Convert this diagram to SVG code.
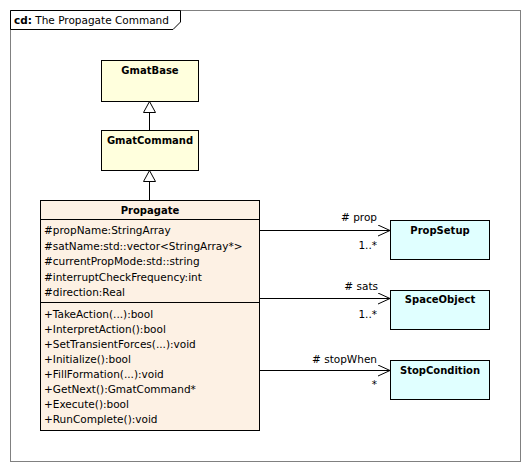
<svg xmlns="http://www.w3.org/2000/svg" width="530" height="471" viewBox="0 0 530 471">
<style>
text{font-family:"DejaVu Sans","Liberation Sans",sans-serif;font-size:10.5px;fill:#000}
.name{font-weight:bold;font-size:10px;text-anchor:middle}
.box{stroke:#000;stroke-width:1}
.yel{fill:#FFFFDD}
.peach{fill:#FDF1E4}
.cyan{fill:#E0FFFF}
.ln{stroke:#000;stroke-width:1;fill:none}
.lbl{text-anchor:end}
</style>
<defs>
<marker id="open" markerWidth="14" markerHeight="14" refX="12" refY="6" orient="auto" markerUnits="userSpaceOnUse">
<path d="M0,0.5 L12,6 L0,11.5" fill="none" stroke="#000" stroke-width="1"/>
</marker>
</defs>
<rect x="0" y="0" width="530" height="471" fill="#fff"/>
<g id="frame">
<rect x="10.5" y="10.5" width="510" height="451" fill="none" stroke="#808080" stroke-width="1"/>
<path d="M10.5,10.5 H180.5 V22 L173,29.5 H10.5 Z" fill="#fff" stroke="#000" stroke-width="1"/>
<text x="14" y="24"><tspan font-weight="bold">cd:</tspan> The Propagate Command</text>
</g>
<g id="GmatBase">
<rect class="box yel" x="101.5" y="60.5" width="97" height="41"/>
<text class="name" x="150" y="74">GmatBase</text>
</g>
<g id="GmatCommand">
<rect class="box yel" x="101.5" y="130.5" width="97" height="40"/>
<text class="name" x="150" y="144">GmatCommand</text>
</g>
<g id="Propagate">
<rect class="box peach" x="40.5" y="200.5" width="219" height="230"/>
<text class="name" x="150" y="213.5">Propagate</text>
<line class="ln" x1="40.5" y1="219.5" x2="259.5" y2="219.5"/>
<text x="44" y="234">#propName:StringArray</text>
<text x="44" y="249.5">#satName:std::vector&lt;StringArray*&gt;</text>
<text x="44" y="265">#currentPropMode:std::string</text>
<text x="44" y="280.5">#interruptCheckFrequency:int</text>
<text x="44" y="296">#direction:Real</text>
<line class="ln" x1="40.5" y1="302.5" x2="259.5" y2="302.5"/>
<text x="44" y="318">+TakeAction(...):bool</text>
<text x="44" y="333">+InterpretAction():bool</text>
<text x="44" y="348">+SetTransientForces(...):void</text>
<text x="44" y="363">+Initialize():bool</text>
<text x="44" y="378">+FillFormation(...):void</text>
<text x="44" y="393">+GetNext():GmatCommand*</text>
<text x="44" y="408">+Execute():bool</text>
<text x="44" y="423">+RunComplete():void</text>
</g>
<g id="PropSetup">
<rect class="box cyan" x="390.5" y="220.5" width="99" height="39"/>
<text class="name" x="440" y="234">PropSetup</text>
</g>
<g id="SpaceObject">
<rect class="box cyan" x="390.5" y="290.5" width="99" height="39"/>
<text class="name" x="440" y="302.5">SpaceObject</text>
</g>
<g id="StopCondition">
<rect class="box cyan" x="390.5" y="360.5" width="99" height="39"/>
<text class="name" x="440" y="374">StopCondition</text>
</g>
<g id="connectors">
<line class="ln" x1="149.5" y1="112" x2="149.5" y2="130"/>
<path d="M149.5,101.5 L155.5,112.5 L143.5,112.5 Z" fill="#fff" stroke="#000" stroke-width="1"/>
<line class="ln" x1="149.5" y1="181" x2="149.5" y2="200"/>
<path d="M149.5,170.5 L155.5,181.5 L143.5,181.5 Z" fill="#fff" stroke="#000" stroke-width="1"/>
<line class="ln" x1="259.5" y1="230.5" x2="390" y2="230.5" marker-end="url(#open)"/>
<text class="lbl" x="377" y="220.5"># prop</text>
<text class="lbl" x="377" y="249">1..*</text>
<line class="ln" x1="259.5" y1="298.5" x2="390" y2="298.5" marker-end="url(#open)"/>
<text class="lbl" x="378" y="290"># sats</text>
<text class="lbl" x="377" y="318">1..*</text>
<line class="ln" x1="259.5" y1="370.5" x2="390" y2="370.5" marker-end="url(#open)"/>
<text class="lbl" x="377" y="363"># stopWhen</text>
<text class="lbl" x="377" y="388">*</text>
</g>
</svg>
